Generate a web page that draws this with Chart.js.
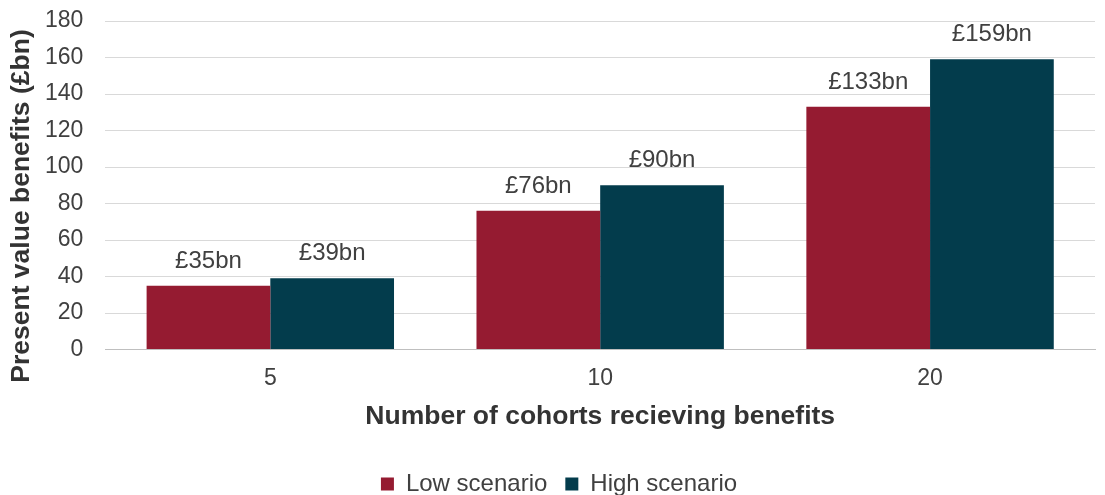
<!DOCTYPE html>
<html>
<head>
<meta charset="utf-8">
<script src="https://cdn.jsdelivr.net/npm/chart.js@4/dist/chart.umd.min.js"></script>
<style>
  html, body { margin: 0; padding: 0; background: #fff; }
  #wrap { width: 1105px; height: 495px; }
</style>
</head>
<body>
<div id="wrap"><canvas id="chart"></canvas></div>
<script>
const categories = ['5', '10', '20'];
const lowScenario = [35, 76, 133];
const highScenario = [39, 90, 159];
const yTicks = [0, 20, 40, 60, 80, 100, 120, 140, 160, 180];

const fontFamily = '"Liberation Sans", Arial, sans-serif';
const yTitle = 'Present value benefits (£bn)';

// draws the "£XXbn" labels above each bar
const barLabels = {
  id: 'barLabels',
  afterDatasetsDraw(chart) {
    const ctx = chart.ctx;
    ctx.save();
    ctx.font = '24px ' + fontFamily;
    ctx.fillStyle = '#404040';
    ctx.textAlign = 'center';
    ctx.textBaseline = 'alphabetic';
    chart.data.datasets.forEach(function(ds, i) {
      const meta = chart.getDatasetMeta(i);
      meta.data.forEach(function(bar, j) {
        ctx.fillText('£' + ds.data[j] + 'bn', bar.x, bar.y - 18);
      });
    });
    ctx.restore();
  }
};

// y axis title, sits a bit lower than the plot centre like the original
const yTitlePlugin = {
  id: 'yTitlePlugin',
  afterDraw(chart) {
    const ctx = chart.ctx;
    ctx.save();
    ctx.translate(22, 206);
    ctx.rotate(-Math.PI / 2);
    ctx.font = 'bold 26.5px ' + fontFamily;
    ctx.fillStyle = '#333333';
    ctx.textAlign = 'center';
    ctx.textBaseline = 'middle';
    ctx.fillText(yTitle, 0, 0);
    ctx.restore();
  }
};

const ctx = document.getElementById('chart').getContext('2d');
new Chart(ctx, {
  type: 'bar',
  data: {
    labels: categories,
    datasets: [
      {
        label: 'Low scenario',
        data: lowScenario,
        backgroundColor: '#951b31',
        categoryPercentage: 0.75,
        barPercentage: 1.0
      },
      {
        label: 'High scenario',
        data: highScenario,
        backgroundColor: '#033c4c',
        categoryPercentage: 0.75,
        barPercentage: 1.0
      }
    ]
  },
  options: {
    responsive: true,
    maintainAspectRatio: false,
    animation: false,
    layout: { padding: { top: 21, right: 10, left: 23, bottom: -11 } },
    plugins: {
      legend: {
        display: true,
        position: 'bottom',
        labels: {
          boxWidth: 13,
          boxHeight: 13,
          padding: 18,
          color: '#404040',
          font: { family: fontFamily, size: 24 }
        }
      },
      tooltip: { enabled: false }
    },
    scales: {
      x: {
        grid: { display: false, drawTicks: false },
        border: { color: '#bfbfbf', width: 1 },
        ticks: {
          color: '#404040',
          padding: 18,
          font: { family: fontFamily, size: 23, lineHeight: 1 }
        },
        title: {
          display: true,
          text: 'Number of cohorts recieving benefits',
          color: '#333333',
          padding: { top: -5, bottom: 24 },
          font: { family: fontFamily, size: 26.5, weight: 'bold', lineHeight: 1 }
        }
      },
      y: {
        min: 0,
        max: 180,
        afterBuildTicks(axis) {
          axis.ticks = yTicks.map(function(v) { return { value: v }; });
        },
        afterFit(axis) {
          // drop the extra room chart.js keeps above the top label
          axis.paddingTop = 0;
          axis.paddingBottom = 0;
        },
        grid: { color: '#d9d9d9', drawTicks: false },
        border: { display: false },
        ticks: {
          color: '#404040',
          padding: 22,
          font: { family: fontFamily, size: 23 }
        }
      }
    }
  },
  plugins: [barLabels, yTitlePlugin]
});
</script>
</body>
</html>
